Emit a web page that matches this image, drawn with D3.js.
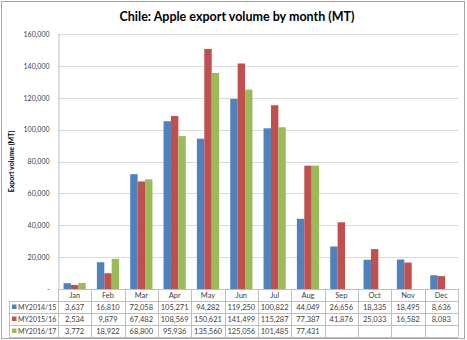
<!DOCTYPE html>
<html>
<head>
<meta charset="utf-8">
<script src="https://cdn.jsdelivr.net/npm/d3@7"></script>
<style>
  body { margin: 0; background: #fff; }
  svg { font-family: Lato, "Open Sans", sans-serif; }
</style>
</head>
<body>
<div id="chart"></div>
<script>
const months = ["Jan", "Feb", "Mar", "Apr", "May", "Jun", "Jul", "Aug", "Sep", "Oct", "Nov", "Dec"];
const seriesNames = ["MY2014/15", "MY2015/16", "MY2016/17"];
const my1415 = [3637, 16810, 72058, 105271, 94282, 119250, 100822, 44049, 26656, 18335, 18495, 8636];
const my1516 = [2534, 9879, 67482, 108569, 150621, 141499, 115287, 77387, 41876, 25033, 16582, 8083];
const my1617 = [3772, 18922, 68800, 95936, 135560, 125056, 101485, 77431, null, null, null, null];
const yTicks = [0, 20000, 40000, 60000, 80000, 100000, 120000, 140000, 160000];
const colors = ["#4F81BD", "#C0504D", "#9BBB59"];

const width = 467, height = 340;
const plot = { left: 58, right: 458, top: 34, bottom: 289 };
const rowH = 12;

const svg = d3.select("#chart").append("svg")
    .attr("width", width)
    .attr("height", height);

// outer frame
svg.append("rect")
    .attr("x", 1.5).attr("y", 1.5)
    .attr("width", 463).attr("height", 337)
    .attr("fill", "none")
    .attr("stroke", "#a6a6a6");

svg.append("text")
    .attr("x", 237)
    .attr("y", 21)
    .attr("text-anchor", "middle")
    .style("font-size", "12.5px")
    .style("font-weight", "bold")
    .text("Chile: Apple export volume by month (MT)");

const x = d3.scaleBand()
    .domain(months)
    .range([plot.left, plot.right]);

const x1 = d3.scaleBand()
    .domain(seriesNames)
    .range([0, x.bandwidth()])
    .paddingOuter(0.75);

const y = d3.scaleLinear()
    .domain([0, 160000])
    .range([plot.bottom, plot.top]);

// gridlines
svg.append("g")
    .selectAll("line")
    .data(yTicks.slice(1))
    .join("line")
    .attr("x1", plot.left).attr("x2", plot.right)
    .attr("y1", d => Math.round(y(d)) + 0.5)
    .attr("y2", d => Math.round(y(d)) + 0.5)
    .attr("stroke", "#d9d9d9");

// y axis
const yAxis = svg.append("g")
    .attr("transform", `translate(${plot.left + 0.5},0)`)
    .call(d3.axisLeft(y).tickValues(yTicks).tickSize(0).tickPadding(9)
        .tickFormat(d => d === 0 ? "-" : d3.format(",")(d)));
yAxis.select(".domain").attr("stroke", "#bfbfbf");
yAxis.selectAll("text")
    .attr("fill", "#404040")
    .style("font-size", "7px")
    .style("font-family", "Lato, sans-serif");

svg.append("text")
    .attr("transform", `translate(14,${(plot.top + plot.bottom) / 2}) rotate(-90)`)
    .attr("text-anchor", "middle")
    .style("font-size", "7px")
    .style("font-weight", "bold")
    .text("Export volume (MT)");

// bars
const allSeries = [my1415, my1516, my1617];
allSeries.forEach((vals, si) => {
    svg.append("g")
        .selectAll("rect")
        .data(vals.map((v, i) => ({ month: months[i], value: v })).filter(d => d.value != null))
        .join("rect")
        .attr("x", d => x(d.month) + x1(seriesNames[si]))
        .attr("width", x1.bandwidth())
        .attr("y", d => y(d.value))
        .attr("height", d => y(0) - y(d.value))
        .attr("fill", colors[si]);
});

// data table
const tableG = svg.append("g");
const lineColor = "#bfbfbf";
const tableBottom = plot.bottom + rowH * 4;

// horizontal lines
tableG.append("line")
    .attr("x1", plot.left).attr("x2", plot.right)
    .attr("y1", plot.bottom + 0.5).attr("y2", plot.bottom + 0.5)
    .attr("stroke", lineColor);
[1, 2, 3, 4].forEach(r => {
    tableG.append("line")
        .attr("x1", 9).attr("x2", plot.right)
        .attr("y1", plot.bottom + r * rowH + 0.5).attr("y2", plot.bottom + r * rowH + 0.5)
        .attr("stroke", lineColor);
});
// vertical lines
months.forEach(m => {
    tableG.append("line")
        .attr("x1", Math.round(x(m)) + 0.5).attr("x2", Math.round(x(m)) + 0.5)
        .attr("y1", plot.bottom).attr("y2", tableBottom)
        .attr("stroke", lineColor);
});
tableG.append("line")
    .attr("x1", plot.right + 0.5).attr("x2", plot.right + 0.5)
    .attr("y1", plot.bottom).attr("y2", tableBottom)
    .attr("stroke", lineColor);
tableG.append("line")
    .attr("x1", 9.5).attr("x2", 9.5)
    .attr("y1", plot.bottom + rowH).attr("y2", tableBottom)
    .attr("stroke", lineColor);

// header
tableG.selectAll("text.month")
    .data(months)
    .join("text")
    .attr("class", "month")
    .attr("x", d => x(d) + x.bandwidth() / 2)
    .attr("y", plot.bottom + rowH / 2 + 3)
    .attr("text-anchor", "middle")
    .attr("fill", "#404040")
    .style("font-size", "7.5px")
    .text(d => d);

// rows
allSeries.forEach((vals, si) => {
    const rowY = plot.bottom + rowH * (si + 1) + rowH / 2 + 3;
    tableG.append("rect")
        .attr("x", 12).attr("y", rowY - 5.5)
        .attr("width", 4.5).attr("height", 4.5)
        .attr("fill", colors[si]);
    tableG.append("text")
        .attr("x", 18)
        .attr("y", rowY)
        .attr("fill", "#404040")
        .style("font-size", "7px")
        .text(seriesNames[si]);
    tableG.append("g")
        .selectAll("text")
        .data(vals.map((v, i) => ({ month: months[i], value: v })).filter(d => d.value != null))
        .join("text")
        .attr("x", d => x(d.month) + x.bandwidth() / 2)
        .attr("y", rowY)
        .attr("text-anchor", "middle")
        .attr("fill", "#404040")
        .style("font-size", "7.5px")
        .text(d => d3.format(",")(d.value));
});
</script>
</body>
</html>
